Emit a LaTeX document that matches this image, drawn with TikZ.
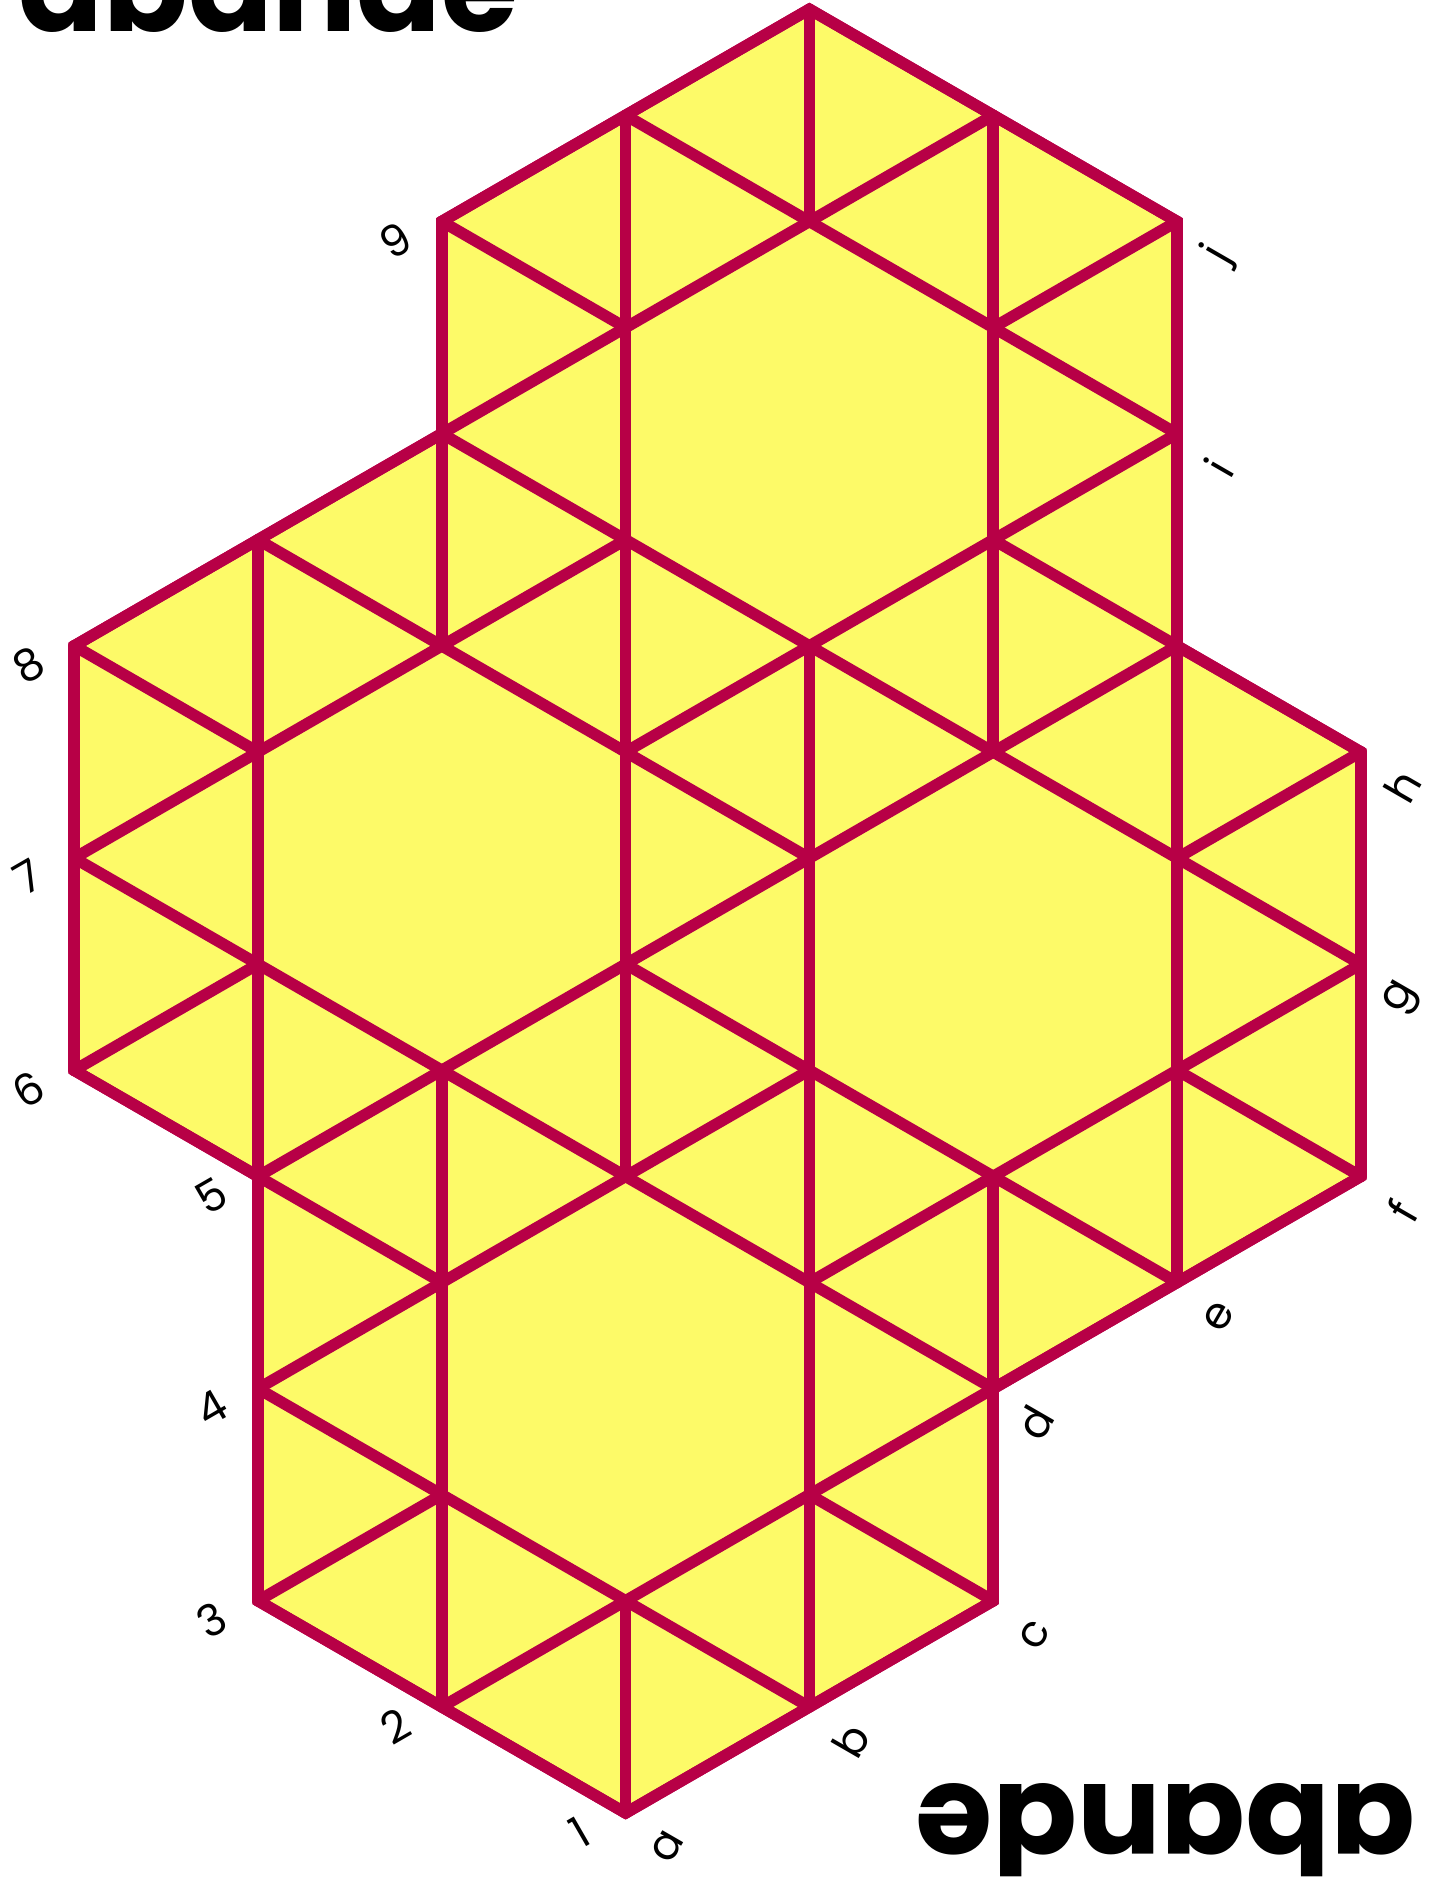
\documentclass[tikz,border=0pt]{standalone}
\usepackage{fontspec}
\setmainfont{Poppins}
\definecolor{edgered}{RGB}{183,0,70}
\definecolor{faceyellow}{RGB}{253,250,104}
\tikzset{
  edge/.style={edgered, line width=1.15mm, line cap=round, line join=round},
  rim/.style={edgered, line width=1.15mm, fill=faceyellow, line join=miter},
  leftlab/.style={font=\fontsize{12.5}{14}\selectfont, rotate=30, inner sep=0pt},
  rightlab/.style={font=\fontsize{12.5}{14}\selectfont, rotate=60, inner sep=0pt},
  word/.style={font=\fontsize{35.5}{38}\selectfont\bfseries, inner sep=0pt, anchor=base west}
}
\begin{document}
\begin{tikzpicture}
  \useasboundingbox (0,0) rectangle (14.42,18.77);
  % Schriftzug oben links und kopfstehend unten rechts
  \node[word] (wtop) at (0.18,18.45) {abande};
  \node[word, rotate=180] (wbot) at (14.16,0.92) {abande};

  \begin{scope}[shift={(0.742cm,0.64cm)}, x=1.838cm, y=1.061cm]
    % Gitterpunkte: Spalte / Halbzeile
    \foreach \col in {0,...,7} {
      \foreach \row in {0,...,17} {
        \coordinate (p\col-\row) at (\col,\row);
      }
    }

    % Umriss des Netzes
    \filldraw[rim] (p3-0) -- (p5-2) -- (p5-4) -- (p7-6) -- (p7-10) -- (p6-11)
      -- (p6-15) -- (p4-17) -- (p2-15) -- (p2-13) -- (p0-11) -- (p0-7)
      -- (p1-6) -- (p1-2) -- cycle;

    % senkrechte Kanten
    \foreach \a/\b in {0-7/0-11, 1-2/1-12, 2-1/2-7, 2-11/2-15, 3-0/3-2, 3-6/3-16,
                       4-1/4-11, 4-15/4-17, 5-2/5-6, 5-10/5-16, 6-5/6-15, 7-6/7-10} {
      \draw[edge] (p\a) -- (p\b);
    }
    % steigende Kanten
    \foreach \a/\b in {3-0/5-2, 2-1/7-6, 1-2/2-3, 4-5/7-8, 1-4/4-7, 6-9/7-10, 1-6/6-11,
                       0-7/1-8, 3-10/6-13, 0-9/3-12, 5-14/6-15, 0-11/5-16, 2-15/4-17} {
      \draw[edge] (p\a) -- (p\b);
    }
    % fallende Kanten
    \foreach \a/\b in {1-2/3-0, 1-4/4-1, 0-7/2-5, 4-3/5-2, 0-9/5-4, 0-11/1-10, 3-8/6-5,
                       1-12/4-9, 6-7/7-6, 2-13/7-8, 2-15/3-14, 5-12/7-10, 3-16/6-13, 4-17/6-15} {
      \draw[edge] (p\a) -- (p\b);
    }

    % Klebekanten links (Ziffern) und rechts (Buchstaben)
    \foreach \t/\v in {1/3-0, 2/2-1, 3/1-2, 4/1-4, 5/1-6, 6/0-7, 7/0-9, 8/0-11, 9/2-15} {
      \node[leftlab] (n\t) at ([shift={(-0.46cm,-0.19cm)}]p\v) {\t};
    }
    \foreach \t/\v in {a/3-0, b/4-1, c/5-2, d/5-4, e/6-5, f/7-6, g/7-8, h/7-10, i/6-13, j/6-15} {
      \node[rightlab] (n\t) at ([shift={(0.42cm,-0.34cm)}]p\v) {\t};
    }
  \end{scope}
\end{tikzpicture}
\end{document}
